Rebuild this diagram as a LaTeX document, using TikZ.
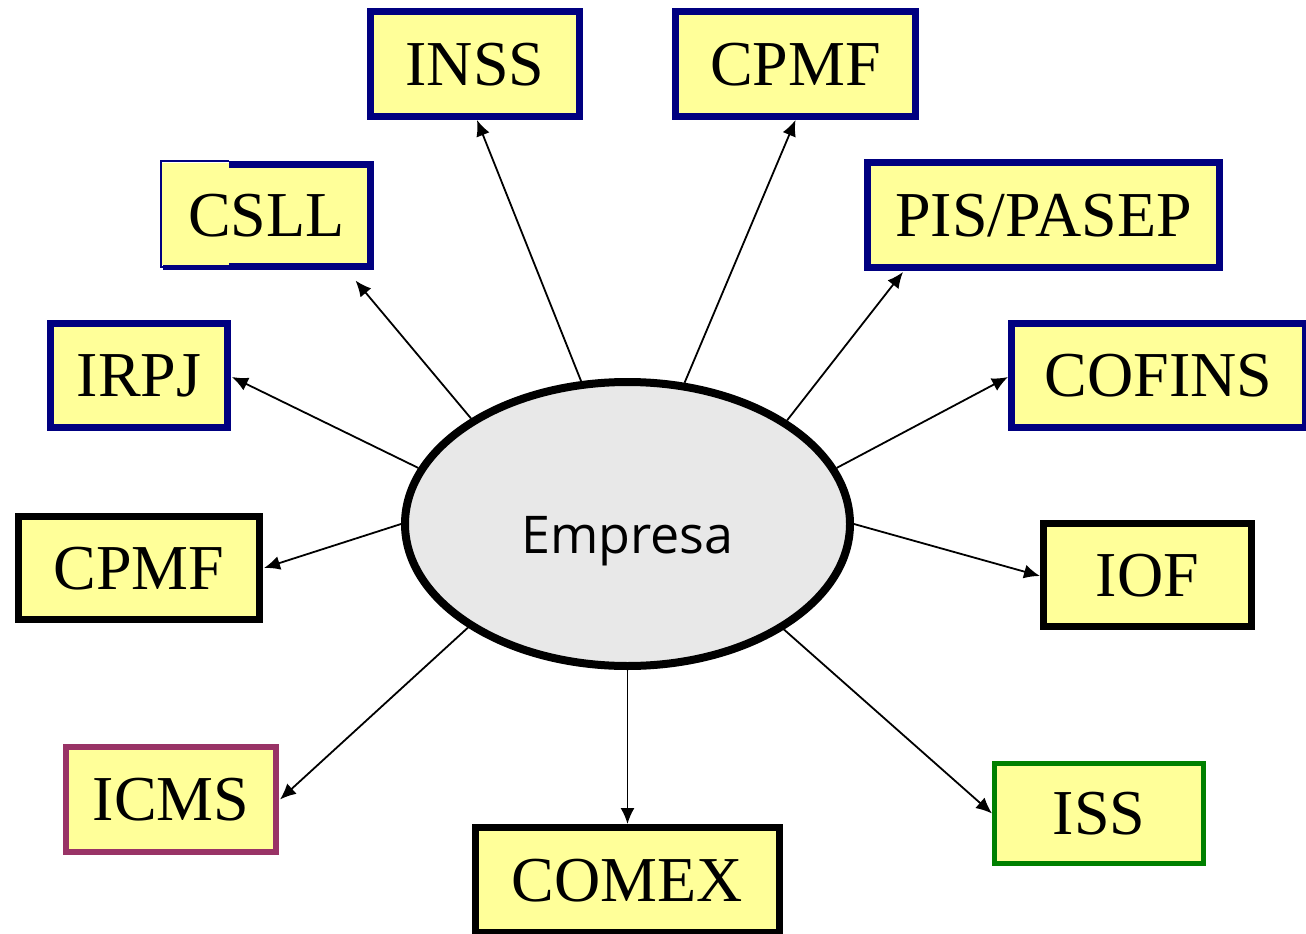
\documentclass[tikz,border=0pt]{standalone}
\usepackage{fontspec}
\setmainfont{Liberation Serif}
\newfontfamily\empfont{Open Sans}
\usetikzlibrary{arrows.meta,shapes.geometric}
\definecolor{yfill}{HTML}{FFFF99}
\definecolor{navyb}{HTML}{000080}
\definecolor{plumb}{HTML}{993366}
\definecolor{grnb}{HTML}{008000}
\definecolor{egray}{HTML}{E8E8E8}
\begin{document}
\begin{tikzpicture}[x=1pt,y=-1pt,
  taxbox/.style={draw, fill=yfill, line width=7pt, inner sep=0pt, minimum height=105pt,
     font=\fontsize{64pt}{64pt}\selectfont, text height=42pt, text depth=0pt},
  navybox/.style={taxbox, draw=navyb},
  blackbox/.style={taxbox, draw=black},
  arr/.style={line width=1.8pt, -{Latex[length=16pt,width=14pt]}}]
\useasboundingbox (0,0) rectangle (1306,934);
% ellipse
\node[ellipse, draw, fill=egray, line width=8pt, minimum width=445pt, minimum height=284pt,
      font=\empfont\fontsize{52pt}{52pt}\selectfont, text height=58pt, text depth=0pt] (emp) at (627.5,524) {Empresa};
% boxes
\node[navybox, minimum width=209pt] (inss) at (475,64) {INSS};
\node[navybox, minimum width=240pt] (cpmfa) at (795.5,64) {CPMF};
\node[navybox, minimum width=204pt, minimum height=102pt] (csll) at (268,215) {};
\fill[white] (160,160) rectangle (229,167);
\fill[yfill] (162,163) rectangle (229,265);
\draw[navyb, line width=2pt] (229,161) -- (161,161) -- (161,267) -- (229,267);
\node[font=\fontsize{64pt}{64pt}\selectfont, text height=42pt, text depth=0pt, inner sep=0pt] (csllt) at (266.5,215) {CSLL};
\node[navybox, minimum width=352pt] (pis) at (1043.5,215) {PIS/PASEP};
\node[navybox, minimum width=177pt, minimum height=104pt] (irpj) at (139,375.5) {IRPJ};
\node[navybox, minimum width=294pt, minimum height=104pt] (cofins) at (1158.5,375.5) {COFINS};
\node[blackbox, minimum width=241pt, minimum height=103pt] (cpmfb) at (139,568) {CPMF};
\node[blackbox, minimum width=208pt, minimum height=103pt] (iof) at (1147.5,575) {IOF};
\node[taxbox, draw=plumb, line width=6pt, minimum width=210pt, minimum height=105pt] (icms) at (171,799.5) {ICMS};
\node[blackbox, minimum width=304pt, minimum height=105pt] (comex) at (627.5,880) {COMEX};
\node[taxbox, draw=grnb, line width=5pt, minimum width=209pt, minimum height=100pt] (iss) at (1099,813.5) {ISS};
% connectors
\draw[arr] (emp.108.6) -- ([xshift=2pt]inss.south);
\draw[arr] (emp.68.2) -- (cpmfa.south);
\draw[arr] (emp.146.2) -- ([xshift=-18pt,yshift=-11pt]csll.south east);
\draw[arr] (emp.33.6) -- ([xshift=39pt,yshift=-1pt]pis.south west);
\draw[arr] (emp.165.2) -- ([xshift=1pt,yshift=-1.5pt]irpj.east);
\draw[arr] (emp.15.8) -- ([yshift=-1.5pt]cofins.west);
\draw[arr] (emp.180) -- ([xshift=1pt]cpmfb.east);
\draw[arr] (emp.0) -- ([yshift=-1pt]iof.west);
\draw[arr] (emp.213.8) -- ([xshift=1pt]icms.east);
\draw[arr] (emp.270) -- (comex.north);
\draw[arr] (emp.326.2) -- (iss.west);
\end{tikzpicture}
\end{document}
